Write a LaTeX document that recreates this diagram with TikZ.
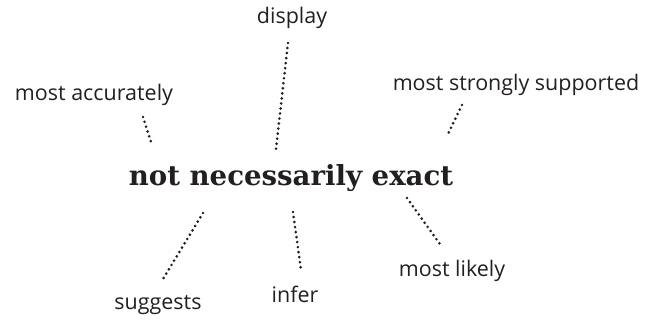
\documentclass[tikz,border=0pt]{standalone}
\usepackage{fontspec}
\setmainfont{Open Sans}
\newfontfamily\titlefont{DejaVu Serif}
\definecolor{ink}{HTML}{231F20}
\begin{document}
\begin{tikzpicture}[x=0.75pt,y=-0.75pt,
  lbl/.style={text=ink,inner sep=0pt,font=\fontsize{16.1pt}{19pt}\selectfont},
  ttl/.style={text=ink,inner sep=0pt,font=\titlefont\bfseries\fontsize{20.7pt}{24pt}\selectfont},
  dots/.style={draw=ink,line width=2.2pt,line cap=round,dash pattern=on 0pt off 3.8pt}]
\useasboundingbox (0,0) rectangle (657,320);
\node[ttl] (title) at (291,178) {not necessarily exact};
\node[lbl] (display) at (292,18) {display};
\node[lbl] (accur) at (94,95) {most accurately};
\node[lbl] (supp) at (516,85) {most strongly supported};
\node[lbl] (sugg) at (158,305) {suggests};
\node[lbl] (infer) at (295,294) {infer};
\node[lbl] (likely) at (452,271) {most likely};
\coordinate (a1) at (143,117); \coordinate (a2) at (152,145);
\coordinate (d1) at (288,43);  \coordinate (d2) at (276,149);
\coordinate (s1) at (462,105); \coordinate (s2) at (447,136);
\coordinate (g1) at (203,213); \coordinate (g2) at (163,279);
\coordinate (i1) at (293,212); \coordinate (i2) at (301,270);
\coordinate (l1) at (407,198); \coordinate (l2) at (442,247);
\draw[dots] (a1) -- (a2);
\draw[dots] (d1) -- (d2);
\draw[dots] (s1) -- (s2);
\draw[dots] (g1) -- (g2);
\draw[dots] (i1) -- (i2);
\draw[dots] (l1) -- (l2);
\end{tikzpicture}
\end{document}
